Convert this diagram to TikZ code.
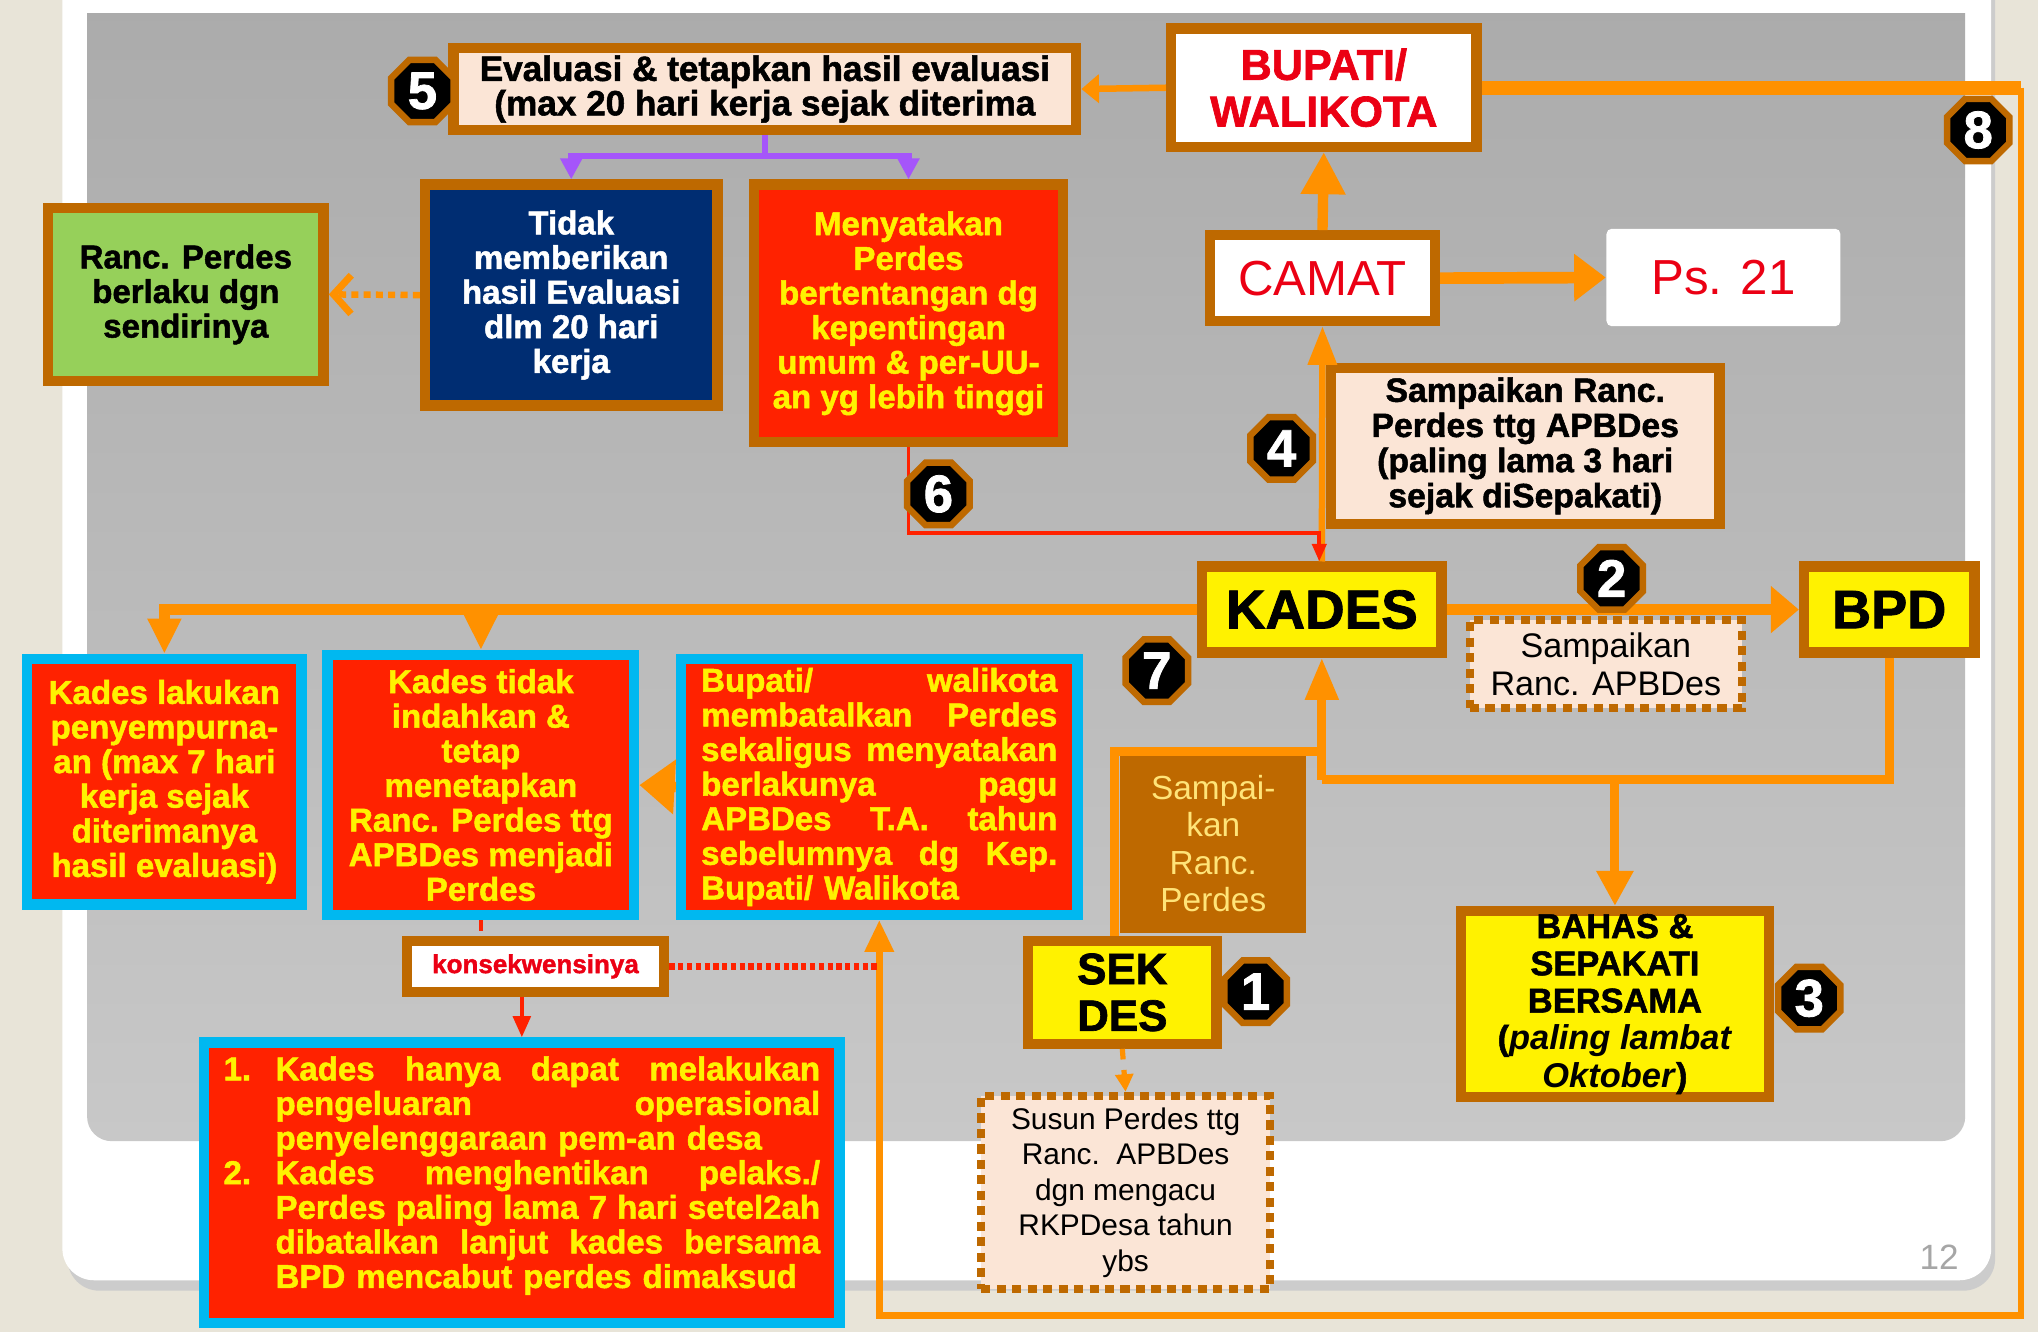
\documentclass[tikz,border=0pt]{standalone}
\usepackage{fontspec}
\setmainfont{Liberation Sans}[BoldFeatures={FakeBold=1.5}]
\usetikzlibrary{arrows.meta, shapes.geometric}

\definecolor{bgbeige}{RGB}{232,228,216}
\definecolor{slidegray}{RGB}{170,170,170}
\definecolor{slidelight}{RGB}{200,200,200}
\definecolor{brn}{RGB}{190,105,0}
\definecolor{orng}{RGB}{255,145,0}
\definecolor{peach}{RGB}{251,229,214}
\definecolor{navy}{RGB}{0,45,114}
\definecolor{redbox}{RGB}{255,34,0}
\definecolor{cyanb}{RGB}{0,184,240}
\definecolor{lgreen}{RGB}{150,208,90}
\definecolor{purp}{RGB}{165,85,250}
\definecolor{redtxt}{RGB}{235,0,20}
\definecolor{paleyel}{RGB}{255,228,120}

\newlength{\px}\setlength{\px}{0.013cm}
\newcommand{\fillline}[2][\linewidth]{\leavevmode\hbox to #1{\spaceskip=0.3em plus 1fil\relax #2}}

\begin{document}
\begin{tikzpicture}[x=0.013cm, y=-0.013cm,
    brownbox/.style={draw=brn, line width=8\px, inner sep=0pt, align=center},
    cyanbox/.style={draw=cyanb, line width=8\px, fill=redbox, text=yellow, inner sep=0pt, align=center},
    dashbox/.style={draw=brn, line width=6\px, dash pattern=on 2.6pt off 1.8pt, fill=peach, inner sep=0pt, align=center},
    boxsize/.style 2 args={minimum width=#1\px, minimum height=#2\px},
    badge/.style={regular polygon, regular polygon sides=8, fill=black, draw=brn, line width=5\px,
      minimum size=52\px, inner sep=0pt, text=white, font=\fontsize{15}{15}\selectfont\bfseries},
    boldtext/.style={font=\fontsize{9.4}{9.85}\selectfont\bfseries}
  ]
  \useasboundingbox (0,0) rectangle (1568,1025);
  % slide background
  \fill[bgbeige] (0,0) rectangle (1568,1025);
  \fill[black!20, rounded corners=9pt] (52,-30) rectangle (1535,993);
  \fill[white, rounded corners=9pt] (48,-30) rectangle (1532,985);
  \begin{scope}
    \clip (0,10) rectangle (1568,1025);
    \shade[top color=slidegray, bottom color=slidelight, rounded corners=7pt] (67,-30) rectangle (1512,878);
  \end{scope}

  % boxes
  \node[brownbox, fill=peach, boxsize={479}{63}, font=\fontsize{10}{9.8}\selectfont\bfseries] (eval)
    at (588.5,68.5) {Evaluasi \& tetapkan hasil evaluasi\\(max 20 hari kerja sejak diterima};
  \node[brownbox, fill=white, text=redtxt, boxsize={235}{91}, font=\fontsize{12.3}{13.3}\selectfont\bfseries] (bupati)
    at (1018.5,67.5) {BUPATI/\\WALIKOTA};
  \node[brownbox, fill=navy, text=white, boxsize={225}{170}, boldtext] (tidak)
    at (439.5,227) {Tidak\\memberikan\\hasil Evaluasi\\dlm 20 hari\\kerja};
  \node[brownbox, fill=redbox, text=yellow, boxsize={238}{198}, boldtext] (menyatakan)
    at (699,241) {Menyatakan\\Perdes\\bertentangan dg\\kepentingan\\umum \& per-UU-\\an yg lebih tinggi};
  \node[brownbox, fill=lgreen, boxsize={212}{133}, boldtext] (berlaku)
    at (143,226.5) {Ranc. Perdes\\berlaku dgn\\sendirinya};
  \node[brownbox, fill=white, text=redtxt, boxsize={173}{66}, font=\fontsize{14}{14}\selectfont] (camat)
    at (1017.5,214) {CAMAT};
  \node[fill=white, rounded corners=1.5pt, inner sep=0pt, boxsize={180}{75}, text=redtxt,
    font=\fontsize{14}{14}\selectfont] (pasal) at (1326,213.5) {Ps. 21};
  \node[brownbox, fill=peach, boxsize={299}{120}, font=\fontsize{9.6}{10}\selectfont\bfseries] (kirim)
    at (1173.5,343) {Sampaikan Ranc.\\Perdes ttg APBDes\\(paling lama 3 hari\\sejak diSepakati)};
  \node[brownbox, fill=yellow, boxsize={184}{66}, font=\fontsize{15.6}{15.6}\selectfont\bfseries] (kades)
    at (1017,469) {KADES};
  \node[brownbox, fill=yellow, boxsize={131}{66}, font=\fontsize{15.4}{15.4}\selectfont\bfseries] (bpd)
    at (1453.5,469) {BPD};
  \node[cyanbox, boxsize={211}{189}, boldtext] (lakukan)
    at (126.5,601.5) {Kades lakukan\\penyempurna-\\an (max 7 hari\\kerja sejak\\diterimanya\\hasil evaluasi)};
  \node[cyanbox, boxsize={236}{200}, boldtext] (abaikan)
    at (370,604) {Kades tidak\\indahkan \&\\tetap\\menetapkan\\Ranc. Perdes ttg\\APBDes menjadi\\Perdes};
  \node[cyanbox, boxsize={305}{197}, boldtext, text width=274\px, align=left] (batal)
    at (676.5,605.5) {\fillline{Bupati/ walikota}\\\fillline{membatalkan Perdes}\\
      \fillline{sekaligus menyatakan}\\\fillline{berlakunya pagu}\\\fillline{APBDes T.A. tahun}\\
      \fillline{sebelumnya dg Kep.}\\Bupati/ Walikota};
  \node[brownbox, fill=white, text=redtxt, boxsize={198}{39}, font=\fontsize{7.4}{7.4}\selectfont\bfseries] (konsek)
    at (412,743.5) {konsekwensinya};
  \node[cyanbox, boxsize={489}{216}, boldtext, text width=459\px, align=left] (akibat)
    at (401.5,910) {\makebox[40\px][l]{1.}\fillline[419\px]{Kades hanya dapat melakukan}\\
      \hspace*{40\px}\fillline[419\px]{pengeluaran operasional}\\
      \hspace*{40\px}penyelenggaraan pem-an desa\\
      \makebox[40\px][l]{2.}\fillline[419\px]{Kades menghentikan pelaks./}\\
      \hspace*{40\px}\fillline[419\px]{Perdes paling lama 7 hari setel2ah}\\
      \hspace*{40\px}\fillline[419\px]{dibatalkan lanjut kades bersama}\\
      \hspace*{40\px}BPD mencabut perdes dimaksud\\[-3.8pt]\mbox{}};
  \node[brownbox, fill=yellow, boxsize={145}{79}, font=\fontsize{12.5}{13.3}\selectfont\bfseries] (sekdes)
    at (863.5,763.5) {SEK\\DES};
  \node[fill=brn, inner sep=0pt, align=center, boxsize={143}{138}, text=paleyel,
    font=\fontsize{9.5}{10.6}\selectfont] (kirimperdes) at (933.5,649) {Sampai-\\kan\\Ranc.\\Perdes};
  \node[brownbox, fill=yellow, boxsize={237}{143}, font=\fontsize{9.8}{10.6}\selectfont\bfseries] (bahas)
    at (1242.5,772.5) {BAHAS \&\\SEPAKATI\\BERSAMA\\(\textit{paling lambat}\\\textit{Oktober})};
  \node[dashbox, boxsize={222}{149}, font=\fontsize{8.5}{10.1}\selectfont] (susun)
    at (866,917.5) {Susun Perdes ttg\\Ranc.~~APBDes\\dgn mengacu\\RKPDesa tahun\\ybs};
  \node[text=black!35, font=\fontsize{10}{10}\selectfont] (halaman) at (1492,967) {12};

  % connectors
  \coordinate (sudut) at (1555,1012);
  \coordinate (temu) at (1017,600);
  \draw[orng, line width=11\px] (bupati.east) -- (bupati.east -| sudut);
  \draw[orng, line width=5\px, -{Triangle[length=9pt,width=8pt]}]
    (bupati.east -| sudut) -- (sudut) -| (batal.south);
  \draw[orng, line width=5\px, -{Triangle[length=5pt,width=8pt]}] (bupati.west) -- (eval.east);
  \draw[purp, line width=5\px] (eval.south) -- ++(0,16) coordinate (cabang);
  \draw[purp, line width=5\px, -{Triangle[length=6pt,width=6pt]}] (cabang) -| (tidak.north);
  \draw[purp, line width=5\px, -{Triangle[length=6pt,width=6pt]}] (cabang) -| (menyatakan.north);
  \draw[orng, line width=5\px, dash pattern=on 2pt off 1.5pt,
    -{Straight Barb[length=5pt,width=11pt,line width=2pt]}] (tidak.west) -- (berlaku.east);
  \draw[orng, line width=8\px, -{Triangle[length=12pt,width=12pt]}] (camat.north) -- (bupati.south);
  \draw[orng, line width=9\px, -{Triangle[length=9pt,width=13pt]}] (camat.east) -- (pasal.west);
  \draw[orng, line width=5\px, -{Triangle[length=11pt,width=8pt]}] (kades.north) -- (camat.south);
  \draw[redbox, line width=3\px, -{Triangle[length=5pt,width=4pt]}]
    (menyatakan.south) -- ++(0,66) -| ([xshift=-2\px]kades.north);
  \draw[orng, line width=8\px, -{Triangle[length=8pt,width=13pt]}] (kades.east) -- (bpd.west);
  \node[dashbox, boxsize={209}{68}, font=\fontsize{9.7}{11}\selectfont] (kirimapb)
    at (1235.5,511) {Sampaikan\\Ranc. APBDes};
  \draw[orng, line width=8\px, -{Triangle[length=10pt,width=9pt]}] (kades.west) -| (lakukan.north);
  \draw[orng, line width=8\px, -{Triangle[length=10pt,width=9pt]}] (kades.west -| abaikan.north) -- (abaikan.north);
  \draw[orng, line width=8\px, -{Triangle[length=10pt,width=15pt]}] (batal.west) -- (abaikan.east);
  \draw[redbox, line width=3\px, dashed] (abaikan.south) -- (abaikan.south |- konsek.north);
  \draw[redbox, line width=5\px, dash pattern=on 1.5pt off 1pt] (konsek.east) -- (konsek.east -| batal.south);
  \draw[redbox, line width=3\px, -{Triangle[length=6pt,width=5pt]}] (akibat.north |- konsek.south) -- (akibat.north);
  \draw[orng, line width=7\px, line join=miter]
    ([xshift=-6\px]sekdes.north) -- ++(0,-142) -| (temu);
  \draw[orng, line width=7\px, line join=miter] (bpd.south) |- (temu);
  \draw[orng, line width=7\px, -{Triangle[length=12pt,width=9pt]}] (temu) -- (kades.south);
  \draw[orng, line width=7\px, -{Triangle[length=10pt,width=10pt]}] (bahas.north |- temu) -- (bahas.north);
  \draw[orng, line width=4\px, dashed, -{Triangle[length=5pt,width=5pt]}] (sekdes.south) -- (susun.north);

  % step badges
  \node[badge] (n5) at (325,70) {5};
  \node[badge] (n8) at (1522,100) {8};
  \node[badge] (n4) at (986,345) {4};
  \node[badge] (n6) at (722,380) {6};
  \node[badge] (n2) at (1240,445) {2};
  \node[badge] (n7) at (890,516) {7};
  \node[badge] (n1) at (966,763) {1};
  \node[badge] (n3) at (1392,768) {3};
\end{tikzpicture}
\end{document}
